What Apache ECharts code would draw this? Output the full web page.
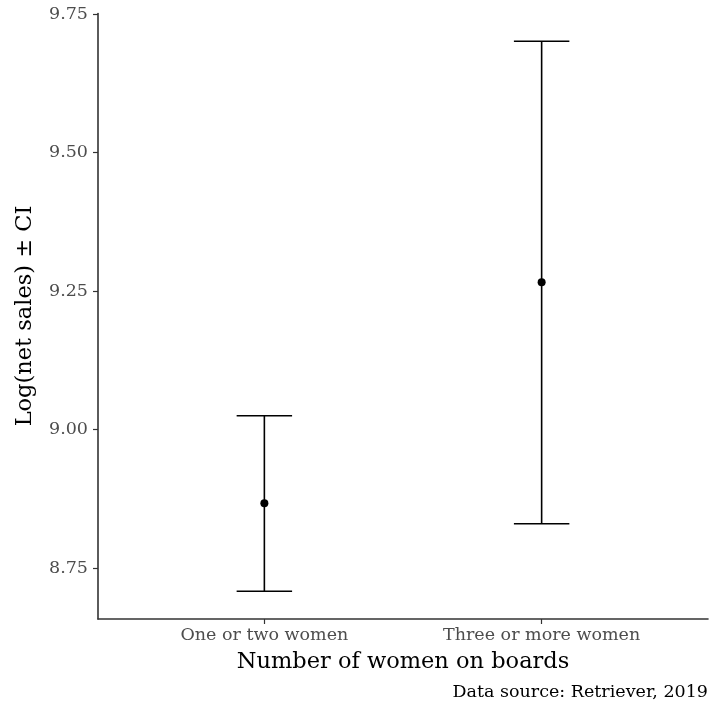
<!DOCTYPE html>
<html>
<head>
<meta charset="utf-8">
<script src="https://cdn.jsdelivr.net/npm/echarts@6/dist/echarts.min.js"></script>
<style>html,body{margin:0;padding:0;background:#fff;}#c{width:712px;height:711px;}</style>
</head>
<body>
<div id="c"></div>
<script>
const categories = ['One or two women', 'Three or more women'];
const means = [8.867, 9.266];
const lowers = [8.708, 8.830];
const uppers = [9.025, 9.701];
const yTicks = [8.75, 9.00, 9.25, 9.50, 9.75];

const FONT = 'DejaVu Serif';
const chart = echarts.init(document.getElementById('c'));
const xPos = categories.map((c, i) => i + 1);

chart.setOption({
  animation: false,
  backgroundColor: '#ffffff',
  grid: { left: 98, right: 4, top: 13.5, bottom: 92, containLabel: false },
  xAxis: {
    type: 'value', min: 0.4, max: 2.6,
    splitLine: { show: false },
    axisLine: { show: true, onZero: false, lineStyle: { color: '#333333', width: 1.6 } },
    axisTick: { show: true, length: 5, customValues: xPos, lineStyle: { color: '#333333', width: 1.2 } },
    axisLabel: {
      customValues: xPos, color: '#4d4d4d', fontFamily: FONT, fontSize: 17.5, margin: 7,
      formatter: v => categories[Math.round(v) - 1] || ''
    }
  },
  yAxis: {
    type: 'value', min: 8.658, max: 9.751,
    splitLine: { show: false },
    axisLine: { show: true, onZero: false, lineStyle: { color: '#333333', width: 1.6 } },
    axisTick: { show: true, length: 5, customValues: yTicks, lineStyle: { color: '#333333', width: 1.2 } },
    axisLabel: {
      customValues: yTicks, color: '#4d4d4d', fontFamily: FONT, fontSize: 17.5, margin: 10,
      formatter: v => v.toFixed(2)
    }
  },
  series: [
    {
      type: 'custom',
      data: xPos.map((x, i) => [x, lowers[i], uppers[i]]),
      renderItem: function (params, api) {
        const x = api.value(0);
        const lo = api.coord([x, api.value(1)]);
        const hi = api.coord([x, api.value(2)]);
        const l = api.coord([x - 0.1, api.value(1)])[0];
        const r = api.coord([x + 0.1, api.value(1)])[0];
        const style = { stroke: '#000000', lineWidth: 1.6 };
        return {
          type: 'group',
          children: [
            { type: 'line', shape: { x1: lo[0], y1: lo[1], x2: hi[0], y2: hi[1] }, style },
            { type: 'line', shape: { x1: l, y1: lo[1], x2: r, y2: lo[1] }, style },
            { type: 'line', shape: { x1: l, y1: hi[1], x2: r, y2: hi[1] }, style }
          ]
        };
      },
      z: 2
    },
    {
      type: 'scatter',
      data: xPos.map((x, i) => [x, means[i]]),
      symbolSize: 8,
      itemStyle: { color: '#000000', opacity: 1 },
      z: 3
    }
  ],
  graphic: [
    {
      type: 'text', x: 403, y: 662,
      style: { text: 'Number of women on boards', fontFamily: FONT, fontSize: 22.5, fill: '#000000', align: 'center', verticalAlign: 'middle' }
    },
    {
      type: 'text', x: 708, y: 692,
      style: { text: 'Data source: Retriever, 2019', fontFamily: FONT, fontSize: 17.5, fill: '#000000', align: 'right', verticalAlign: 'middle' }
    },
    {
      type: 'text', x: 25, y: 316, rotation: Math.PI / 2,
      style: { text: 'Log(net sales) \u00b1 CI', fontFamily: FONT, fontSize: 22.5, fill: '#000000', align: 'center', verticalAlign: 'middle' }
    }
  ]
});
</script>
</body>
</html>
